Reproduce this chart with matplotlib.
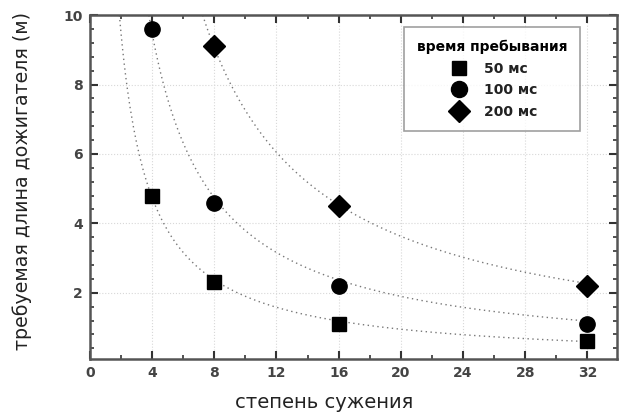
import numpy as np
import matplotlib.pyplot as plt
from matplotlib.ticker import MultipleLocator

# степень сужения (x) and required afterburner length (y), per residence time
x_50 = [4, 8, 16, 32]
y_50 = [4.8, 2.3, 1.1, 0.6]
x_100 = [4, 8, 16, 32]
y_100 = [9.6, 4.6, 2.2, 1.1]
x_200 = [8, 16, 32]
y_200 = [9.1, 4.5, 2.2]

labels = ['50 мс', '100 мс', '200 мс']
markers = ['s', 'o', 'D']
sizes = [10, 11, 11]

plt.rcParams['font.family'] = 'DejaVu Sans'

fig = plt.figure(figsize=(6.2, 4.2), dpi=100)
ax = fig.add_axes([0.145, 0.146, 0.85, 0.818])

series = [(x_50, y_50), (x_100, y_100), (x_200, y_200)]
for (xs, ys), lab, m, ms in zip(series, labels, markers, sizes):
    xs = np.array(xs, float)
    ys = np.array(ys, float)
    # least-squares fit of y = a / x
    a = np.sum(ys / xs) / np.sum(1 / xs**2)
    xf = np.linspace(a / 10.0, 32, 300)
    ax.plot(xf, a / xf, ls=(0, (1, 2.5)), color='#777777', lw=1.0, zorder=2)
    ax.plot(xs, ys, m, color='black', ms=ms, label=lab, zorder=3)

ax.set_xlim(0, 33.9)
ax.set_ylim(0.1, 10)
ax.xaxis.set_major_locator(MultipleLocator(4))
ax.xaxis.set_minor_locator(MultipleLocator(2))
ax.yaxis.set_minor_locator(MultipleLocator(0.4))
ax.set_yticks([2, 4, 6, 8, 10])

ax.grid(True, which='major', ls=':', color='#d8d8d8', lw=0.8)
ax.tick_params(which='both', direction='in', top=True, right=True,
               color='#333333', labelsize=10, pad=5)
ax.tick_params(which='major', length=6, width=1.5)
ax.tick_params(which='minor', length=3, width=1.2)
for lbl in ax.get_xticklabels() + ax.get_yticklabels():
    lbl.set_fontweight('bold')
    lbl.set_color('#444444')
for sp in ax.spines.values():
    sp.set_linewidth(1.8)
    sp.set_color('#555555')

ax.set_xlabel('степень сужения', fontsize=14, color='#222222')
ax.set_ylabel('требуемая длина дожигателя (м)', fontsize=13.7, color='#222222')
ax.xaxis.set_label_coords(0.444, -0.128)
ax.xaxis.label.set_va('center')
ax.yaxis.set_label_coords(-0.129, 0.517)
ax.yaxis.label.set_va('center')

leg = ax.legend(title='время пребывания', loc='upper right',
                bbox_to_anchor=(0.943, 0.985), fancybox=False,
                frameon=True, fontsize=10, title_fontsize=10,
                handlelength=1.6, handletextpad=1.0, labelspacing=0.55,
                borderpad=0.9, markerscale=1.05)
leg.get_frame().set_edgecolor('#888888')
leg.get_frame().set_linewidth(1.2)
leg.get_title().set_fontweight('bold')
for t in leg.get_texts():
    t.set_fontweight('bold')
    t.set_color('#222222')

fig.savefig('out.png', dpi=100)
